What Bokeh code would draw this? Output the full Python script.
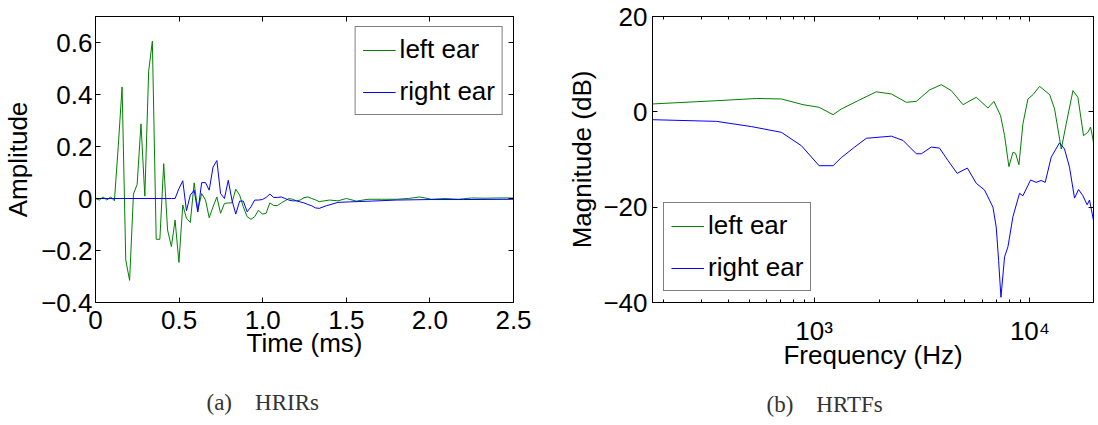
from bokeh.plotting import figure
from bokeh.models import (FixedTicker, LinearAxis, Legend, LegendItem, Title,
                          Range1d, BasicTickFormatter, CustomLabelingPolicy)
from bokeh.layouts import row
from bokeh.embed import file_html
from bokeh.resources import INLINE

FONT = "Liberation Sans"
SERIF = "Liberation Serif"
GREEN = "#008000"
BLUE = "#0000ff"

# ---------------- data: HRIRs (time in ms, amplitude) ----------------
hrir_left_t = [0.000, 0.023, 0.045, 0.068, 0.091, 0.113, 0.136, 0.159, 0.181, 0.204,
               0.227, 0.249, 0.272, 0.295, 0.318, 0.340, 0.363, 0.385, 0.408, 0.431,
               0.454, 0.476, 0.499, 0.522, 0.544, 0.567, 0.590, 0.612, 0.635, 0.658,
               0.680, 0.703, 0.726, 0.748, 0.771, 0.794, 0.816, 0.839, 0.862, 0.884,
               0.907, 0.930, 0.952, 0.975, 0.998, 1.020, 1.043, 1.066, 1.088, 1.111,
               1.134, 1.156, 1.179, 1.202, 1.224, 1.247, 1.270, 1.293, 1.315, 1.338,
               1.40, 1.45, 1.50, 1.56, 1.63, 1.71, 1.80, 1.87, 1.94, 2.01,
               2.09, 2.17, 2.25, 2.33, 2.40, 2.50]
hrir_left_v = [0.000, -0.006, 0.006, -0.006, 0.006, -0.009, 0.200, 0.429, -0.236, -0.315,
               0.017, 0.054, 0.287, 0.009, 0.490, 0.605, -0.157, -0.157, 0.134, -0.121,
               -0.185, -0.083, -0.246, -0.025, -0.076, -0.092, 0.060, -0.045, 0.019, -0.006,
               -0.074, -0.032, 0.006, -0.057, -0.019, -0.017, -0.017, 0.036, 0.013, -0.032,
               -0.070, -0.080, -0.070, -0.045, -0.060, -0.057, -0.017, -0.027, -0.027, -0.017,
               -0.009, 0.000, -0.003, -0.009, -0.006, 0.003, 0.006, 0.000, -0.005, -0.012,
               -0.006, -0.009, 0.000, -0.010, -0.003, -0.003, -0.003, 0.000, 0.006, -0.003,
               0.000, -0.003, 0.002, 0.001, 0.002, 0.002]

hrir_right_t = [0.000, 0.454, 0.476, 0.499, 0.522, 0.544, 0.567, 0.590, 0.612, 0.635,
                0.658, 0.680, 0.703, 0.726, 0.748, 0.771, 0.794, 0.816, 0.839, 0.862,
                0.884, 0.907, 0.930, 0.952, 0.975, 0.998, 1.020, 1.043, 1.066, 1.088,
                1.111, 1.134, 1.156, 1.179, 1.202, 1.224, 1.247, 1.270, 1.293, 1.315,
                1.338, 1.38, 1.45, 1.52, 1.65, 1.80, 2.00, 2.20, 2.50]
hrir_right_v = [0.000, 0.000, 0.000, 0.038, 0.068, -0.047, 0.013, 0.032, -0.052, 0.061,
                0.061, 0.032, 0.121, 0.146, 0.019, 0.000, 0.070, -0.006, -0.060, -0.010,
                -0.010, -0.051, -0.032, -0.006, -0.006, -0.004, 0.004, 0.017, 0.004, 0.004,
                0.006, 0.000, -0.006, -0.009, -0.009, -0.013, -0.017, -0.023, -0.028, -0.036,
                -0.038, -0.028, -0.015, -0.013, -0.010, -0.006, -0.004, -0.004, -0.003]

# ---------------- data: HRTFs (frequency in Hz, magnitude in dB) ----------------
hrtf_left_f = [178, 359, 541, 706, 889, 1055, 1225, 1337, 1600, 1941,
               2279, 2675, 2976, 3430, 3882, 4322, 4898, 5640, 6390, 6810,
               7310, 7630, 7990, 8340, 8580, 8890, 9280, 9790, 10330, 11090,
               12340, 13010, 13970, 14730, 15820, 16680, 17710, 18550, 19100, 19700]
hrtf_left_db = [1.65, 2.35, 2.8, 2.7, 1.5, 0.95, -0.6, 0.6, 2.35, 4.2,
                3.75, 2.0, 2.2, 4.6, 5.7, 4.45, 1.5, 3.05, 0.8, 2.2,
                -0.8, -5.0, -11.5, -8.5, -8.7, -11.1, -2.5, 2.7, 3.6, 5.35,
                3.6, 0.6, -7.8, -2.5, 4.45, 3.05, -5.0, -4.3, -3.2, -6.4]

hrtf_right_f = [178, 353, 513, 706, 873, 1055, 1225, 1337, 1541, 1746,
                2279, 2582, 2976, 3140, 3490, 3810, 4170, 4600, 5130, 5640,
                6160, 6740, 6980, 7160, 7340, 7630, 7910, 8340, 8950, 9280,
                10070, 10690, 11270, 11770, 12550, 13710, 14460, 15250, 16090, 16800,
                17590, 18410, 18880, 19700]
hrtf_right_db = [-1.65, -2.0, -3.1, -4.3, -7.1, -11.3, -11.3, -9.6, -7.4, -5.55,
                 -5.1, -6.0, -8.8, -8.8, -7.4, -7.6, -10.2, -12.9, -11.8, -15.0,
                 -16.4, -20.0, -24.2, -31.2, -38.9, -30.4, -28.3, -22.0, -17.1, -17.6,
                 -14.3, -14.8, -14.4, -14.8, -9.5, -6.5, -7.8, -11.6, -18.1, -16.3,
                 -17.6, -19.5, -18.5, -22.8]

series_names = ["left ear", "right ear"]
captions = ["(a)\u2003HRIRs", "(b)\u2003HRTFs"]

# ---------------- ticks ----------------
t_ticks = [0, 0.5, 1.0, 1.5, 2.0, 2.5]
t_tick_labels = ["0", "0.5", "1.0", "1.5", "2.0", "2.5"]
amp_ticks = [-0.4, -0.2, 0, 0.2, 0.4, 0.6]
amp_tick_labels = ["\u22120.4", "\u22120.2", "0", "0.2", "0.4", "0.6"]
f_ticks = [1000, 10000]
f_tick_labels = ["10\u00b3", "10\u2074"]
f_minor = [200, 300, 400, 500, 600, 700, 800, 900,
           2000, 3000, 4000, 5000, 6000, 7000, 8000, 9000]
db_ticks = [-40, -20, 0, 20]
db_tick_labels = ["\u221240", "\u221220", "0", "20"]

HIDE_LABELS = """
const all = [...indices]
for (const i of all) indices.unset(i)
return indices
"""


def style_axis(ax, ticks, labels, minor=None, show_labels=True, standoff=4):
    ax.ticker = FixedTicker(ticks=ticks, minor_ticks=minor or [])
    ax.formatter = BasicTickFormatter()
    ax.major_tick_in = 5
    ax.major_tick_out = 0
    ax.minor_tick_in = 3
    ax.minor_tick_out = 0
    ax.major_tick_line_color = "black"
    ax.minor_tick_line_color = "black"
    ax.axis_line_color = "black"
    ax.major_label_overrides = dict(zip(ticks, labels))
    ax.major_label_text_font = FONT
    ax.major_label_text_font_size = "26px"
    ax.major_label_text_color = "black"
    ax.major_label_standoff = standoff
    ax.axis_label_text_font = FONT
    ax.axis_label_text_font_size = "26px"
    ax.axis_label_text_font_style = "normal"
    ax.axis_label_text_color = "black"
    if not show_labels:
        ax.major_label_policy = CustomLabelingPolicy(code=HIDE_LABELS)
        ax.major_label_text_font_size = "1px"
        ax.major_label_standoff = 0


def make_legend(r1, r2, loc, margin):
    leg = Legend(items=[LegendItem(label=series_names[0], renderers=[r1]),
                        LegendItem(label=series_names[1], renderers=[r2])],
                 location=loc)
    leg.border_line_color = "black"
    leg.border_line_width = 1
    leg.background_fill_color = "white"
    leg.background_fill_alpha = 1
    leg.label_text_font = FONT
    leg.label_text_font_size = "26px"
    leg.label_text_color = "black"
    leg.glyph_width = 33
    leg.glyph_height = 30
    leg.label_height = 30
    leg.label_standoff = 4
    leg.spacing = 11
    leg.padding = 7
    leg.margin = margin
    return leg


def caption(text, offset, standoff):
    return Title(text=text, align="left", offset=offset, standoff=standoff,
                 text_font=SERIF, text_font_size="23px", text_font_style="normal",
                 text_color="#333333")


def base_fig(**kw):
    p = figure(output_backend="svg", toolbar_location=None, **kw)
    p.xgrid.visible = False
    p.ygrid.visible = False
    p.outline_line_color = "black"
    p.outline_line_width = 1
    p.outline_line_alpha = 1
    p.background_fill_color = "white"
    p.border_fill_color = "white"
    return p


# ---------------- (a) HRIRs ----------------
p1 = base_fig(frame_width=418, frame_height=286,
              min_border_left=94, min_border_right=48,
              min_border_top=13, min_border_bottom=126,
              x_range=Range1d(0, 2.5), y_range=Range1d(-0.4, 0.7))
p1.xaxis.axis_label = "Time (ms)"
p1.yaxis.axis_label = "Amplitude"
style_axis(p1.xaxis[0], t_ticks, t_tick_labels, standoff=8)
style_axis(p1.yaxis[0], amp_ticks, amp_tick_labels, standoff=3)
p1.xaxis.axis_label_standoff = -4
p1.yaxis.axis_label_standoff = 5
top1 = LinearAxis()
style_axis(top1, t_ticks, t_tick_labels, show_labels=False)
right1 = LinearAxis()
style_axis(right1, amp_ticks, amp_tick_labels, show_labels=False)
p1.add_layout(top1, "above")
p1.add_layout(right1, "right")

g1 = p1.line(hrir_left_t, hrir_left_v, line_color=GREEN, line_width=1)
b1 = p1.line(hrir_right_t, hrir_right_v, line_color=BLUE, line_width=1)
p1.add_layout(make_legend(g1, b1, "top_right", 10))
p1.add_layout(caption(captions[0], 111, 54), "below")

# ---------------- (b) HRTFs ----------------
p2 = base_fig(frame_width=441, frame_height=286,
              min_border_left=91, min_border_right=6,
              min_border_top=16, min_border_bottom=123,
              x_axis_type="log",
              x_range=Range1d(178.4, 19700), y_range=Range1d(-40, 20))
p2.xaxis.axis_label = "Frequency (Hz)"
p2.yaxis.axis_label = "Magnitude (dB)"
style_axis(p2.xaxis[0], f_ticks, f_tick_labels, minor=f_minor, standoff=13)
style_axis(p2.yaxis[0], db_ticks, db_tick_labels, standoff=5)
p2.xaxis.axis_label_standoff = -9
p2.yaxis.axis_label_standoff = 3
top2 = LinearAxis()
style_axis(top2, f_ticks, f_tick_labels, minor=f_minor, show_labels=False)
right2 = LinearAxis()
style_axis(right2, db_ticks, db_tick_labels, show_labels=False)
p2.add_layout(top2, "above")
p2.add_layout(right2, "right")

g2 = p2.line(hrtf_left_f, hrtf_left_db, line_color=GREEN, line_width=1)
b2 = p2.line(hrtf_right_f, hrtf_right_db, line_color=BLUE, line_width=1)
p2.add_layout(make_legend(g2, b2, "bottom_left", 11))
p2.add_layout(caption(captions[1], 114, 34), "below")

layout = row(p1, p2)
open("out.html", "w").write(file_html(layout, INLINE))
